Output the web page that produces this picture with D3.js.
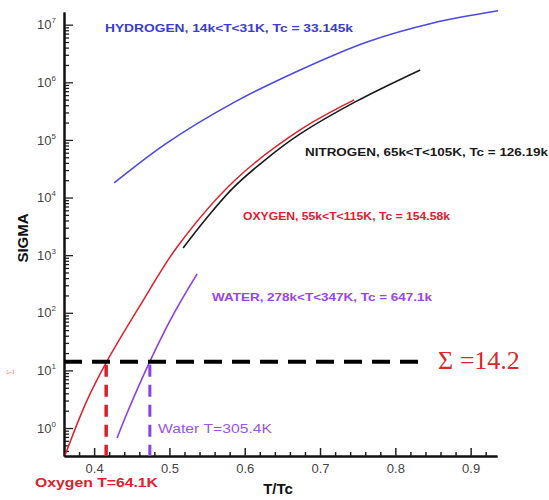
<!DOCTYPE html>
<html><head><meta charset="utf-8">
<script src="https://cdn.jsdelivr.net/npm/d3@7"></script>
<style>html,body{margin:0;padding:0;background:#fff;}svg{display:block;font-family:"Liberation Sans",Arial,sans-serif;}</style>
</head><body>
<svg id="c" width="549" height="500"></svg>
<script>
// ---- data ----
const oxygenX = [0.3615,0.3900,0.4173,0.4620,0.5102,0.5873,0.6736,0.7453];
const oxygenSigma = [0.340,2.9,14.6,140,1387,20200,149000,494000];
const nitrogenX = [0.5182,0.5500,0.5846,0.6297,0.6736,0.7467,0.8331];
const nitrogenSigma = [1334,4500,14700,48000,127000,457000,1640000];
const hydrogenX = [0.4266,0.4969,0.5846,0.6736,0.7625,0.8502,0.9365];
const hydrogenSigma = [17900,88700,439000,1640000,5020000,10700000,17400000];
const waterX = [0.4305,0.4438,0.4744,0.5049,0.5368];
const waterSigma = [0.67,1.82,14.6,91.6,472];
const sigmaThreshold = 14.2;
const thresholdXEnd = 0.842;
const oxygenCross = 0.416;
const waterCross = 0.474;
const xMajorTicks = [0.4,0.5,0.6,0.7,0.8,0.9];
const yMajorExponents = [0,1,2,3,4,5,6,7];

const svg = d3.select("#c");
const x = d3.scaleLinear().domain([0.36, 0.935]).range([64, 497]);
const y = d3.scaleLog().domain([0.327, 1.66e7]).range([456, 12]);

// minor ticks
const xMinor = d3.range(0.38, 0.935, 0.02).filter(v => Math.abs(Math.round(v*10) - v*10) > 0.01);
const yMinor = [];
for (let e = -1; e <= 7; e++) for (let m = 2; m <= 9; m++) { const v = m*Math.pow(10,e); if (v >= 0.327 && v <= 1.66e7) yMinor.push(v); }

const gx = svg.append("g").attr("transform","translate(0,456)");
gx.call(d3.axisBottom(x).tickValues(xMinor).tickSizeInner(-4).tickSizeOuter(0).tickFormat(""));
gx.append("g").call(d3.axisBottom(x).tickValues(xMajorTicks).tickSizeInner(-8).tickSizeOuter(0).tickPadding(8).tickFormat(d3.format(".1f")));
gx.selectAll("path.domain").attr("stroke","#111").attr("stroke-width",2);
gx.selectAll(".tick line").attr("stroke","#222").attr("stroke-width",1.5);
gx.selectAll(".tick text").attr("font-size",13).attr("fill","#444").attr("font-family","Liberation Sans, Arial");

const gy = svg.append("g").attr("transform","translate(64,0)");
gy.call(d3.axisLeft(y).tickValues(yMinor).tickSizeInner(-5).tickSizeOuter(0).tickFormat(""));
gy.append("g").call(d3.axisLeft(y).tickValues(yMajorExponents.map(e=>Math.pow(10,e))).tickSizeInner(-9).tickSizeOuter(0).tickPadding(9).tickFormat(""));
gy.selectAll("path.domain").attr("stroke","#111").attr("stroke-width",2);
gy.selectAll(".tick line").attr("stroke","#222").attr("stroke-width",1.3);
gy.selectAll("g > g .tick text").each(function(d){
  const t = d3.select(this);
  t.text("").attr("font-size",13).attr("fill","#444").attr("font-family","Liberation Sans, Arial").attr("x",-8);
  t.append("tspan").text("10");
  t.append("tspan").attr("dy",-6).attr("font-size",8).text(Math.round(Math.log10(d)));
});

// curves
const line = d3.line().x(d=>x(d[0])).y(d=>y(d[1])).curve(d3.curveCatmullRom.alpha(0.5));
function draw(xs, ys, color, w){
  svg.append("path").datum(xs.map((v,i)=>[v,ys[i]])).attr("d",line)
    .attr("fill","none").attr("stroke",color).attr("stroke-width",w);
}
draw(hydrogenX, hydrogenSigma, "#4a4ae6", 1.6);
draw(nitrogenX, nitrogenSigma, "#1a1a1a", 1.6);
draw(oxygenX, oxygenSigma, "#e0202c", 1.5);
draw(waterX, waterSigma, "#8a3ff0", 1.6);

// threshold lines
svg.append("line").attr("x1",x(0.36)).attr("x2",x(thresholdXEnd)).attr("y1",y(sigmaThreshold)).attr("y2",y(sigmaThreshold))
  .attr("stroke","#000").attr("stroke-width",4).attr("stroke-dasharray","18,10");
svg.append("line").attr("x1",x(oxygenCross)).attr("x2",x(oxygenCross)).attr("y1",y(sigmaThreshold)+3).attr("y2",456)
  .attr("stroke","#d9202a").attr("stroke-width",3.5).attr("stroke-dasharray","12,8");
svg.append("line").attr("x1",x(waterCross)).attr("x2",x(waterCross)).attr("y1",y(sigmaThreshold)+3).attr("y2",456)
  .attr("stroke","#8a3ff0").attr("stroke-width",3).attr("stroke-dasharray","12,8");

// texts
function label(txt, xp, yp, color, size, len){
  const t = svg.append("text").attr("x",xp).attr("y",yp).attr("fill",color).attr("font-size",size)
    .attr("font-weight","bold").text(txt);
  if (len) t.attr("textLength",len).attr("lengthAdjust","spacingAndGlyphs");
  return t;
}
label("HYDROGEN, 14k<T<31K, Tc = 33.145k", 105, 32, "#3b3bd6", 11.5, 248);
label("NITROGEN, 65k<T<105K, Tc = 126.19k", 305, 156, "#1a1a1a", 11.5, 243);
label("OXYGEN, 55k<T<115K, Tc = 154.58k", 243, 220, "#e0202c", 11.5, 207);
label("WATER, 278k<T<347K, Tc = 647.1k", 212, 301, "#9a45e8", 11.5, 220);
label("Water T=305.4K", 158, 433, "#9a55e8", 13, 114).attr("font-weight","normal");
label("Oxygen T=64.1K", 35, 487, "#e0202c", 13, 123);
svg.append("text").attr("x",278).attr("y",494).attr("text-anchor","middle").attr("font-size",15).attr("font-weight","bold").attr("fill","#111").text("T/Tc");
svg.append("text").attr("transform","translate(28,238) rotate(-90)").attr("text-anchor","middle").attr("font-size",15).attr("font-weight","bold").attr("fill","#111").text("SIGMA");
svg.append("text").attr("x",438).attr("y",369).attr("font-family","Liberation Serif, Times New Roman, serif").attr("font-size",26).attr("fill","#d42a2a").text("\u03A3 =14.2");
svg.append("text").attr("transform","translate(14,372) rotate(-90)").attr("text-anchor","middle").attr("font-family","Liberation Serif, serif").attr("font-size",10).attr("fill","#e06060").attr("opacity",0.6).text("\u03A3");
</script>
</body></html>
